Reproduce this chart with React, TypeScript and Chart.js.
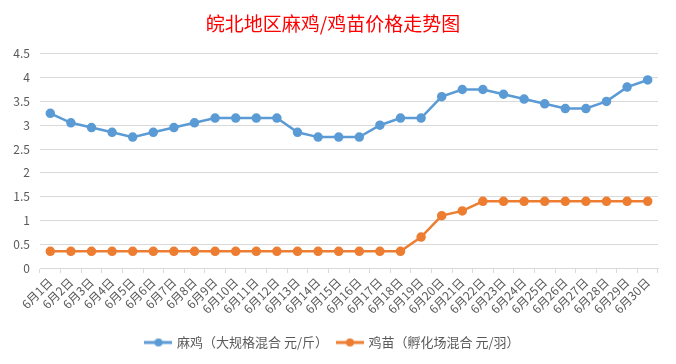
import React, { useEffect, useRef } from "react";
import { Chart, registerables } from "chart.js";

Chart.register(...registerables);

const titleText = "皖北地区麻鸡/鸡苗价格走势图";
const days = Array.from({ length: 30 }, (_, i) => `6月${i + 1}日`);
const seriesNames = ["麻鸡（大规格混合 元/斤）", "鸡苗（孵化场混合 元/羽）"];
const majiPrices = [
  3.25, 3.05, 2.95, 2.85, 2.75, 2.85, 2.95, 3.05, 3.15, 3.15,
  3.15, 3.15, 2.85, 2.75, 2.75, 2.75, 3.0, 3.15, 3.15, 3.6,
  3.75, 3.75, 3.65, 3.55, 3.45, 3.35, 3.35, 3.5, 3.8, 3.95,
];
const jimiaoPrices = [
  0.35, 0.35, 0.35, 0.35, 0.35, 0.35, 0.35, 0.35, 0.35, 0.35,
  0.35, 0.35, 0.35, 0.35, 0.35, 0.35, 0.35, 0.35, 0.65, 1.1,
  1.2, 1.4, 1.4, 1.4, 1.4, 1.4, 1.4, 1.4, 1.4, 1.4,
];
const colors = ["#5B9BD5", "#ED7D31"];

const sheetCols = [40, 112, 183, 255, 327, 399, 471, 543, 615];
const sheetRows = [29, 63, 103, 143, 176, 207, 238, 270, 311, 343];

function legendIcon(color: string) {
  const c = document.createElement("canvas");
  c.width = 28;
  c.height = 10;
  const g = c.getContext("2d")!;
  g.strokeStyle = color;
  g.lineWidth = 3;
  g.beginPath();
  g.moveTo(0, 5);
  g.lineTo(28, 5);
  g.stroke();
  g.fillStyle = color;
  g.beginPath();
  g.arc(14, 5, 4, 0, Math.PI * 2);
  g.fill();
  return c;
}

const FONT = "'Noto Sans CJK SC', 'Noto Sans', sans-serif";

export default function App() {
  const ref = useRef<HTMLCanvasElement>(null);
  useEffect(() => {
    const bgPlugin = {
      id: "sheetbg",
      beforeDraw(chart: any) {
        const ctx = chart.ctx;
        const W = chart.width, H = chart.height;
        ctx.save();
        ctx.fillStyle = "#ffffff";
        ctx.fillRect(0, 0, W, H);
        ctx.strokeStyle = "#e3e3e3";
        ctx.lineWidth = 1;
        for (const x of sheetCols) {
          ctx.beginPath();
          ctx.moveTo(x + 0.5, 0);
          ctx.lineTo(x + 0.5, H);
          ctx.stroke();
        }
        for (const y of sheetRows) {
          ctx.beginPath();
          ctx.moveTo(0, y + 0.5);
          ctx.lineTo(W, y + 0.5);
          ctx.stroke();
        }
        ctx.fillStyle = "#ffffff";
        ctx.fillRect(3, 2, 670, 359);
        ctx.strokeStyle = "#d0d0d0";
        ctx.strokeRect(3.5, 2.5, 669, 358);
        ctx.restore();
      },
    };
    const icons = colors.map(legendIcon);
    const chart = new Chart(ref.current!, {
      type: "line",
      data: {
        labels: days,
        datasets: [
          {
            label: seriesNames[0],
            data: majiPrices,
            borderColor: colors[0],
            backgroundColor: colors[0],
            borderWidth: 2.5,
            pointRadius: 3.5,
            pointBackgroundColor: colors[0],
            pointBorderColor: colors[0],
            tension: 0,
          },
          {
            label: seriesNames[1],
            data: jimiaoPrices,
            borderColor: colors[1],
            backgroundColor: colors[1],
            borderWidth: 2.5,
            pointRadius: 3.5,
            pointBackgroundColor: colors[1],
            pointBorderColor: colors[1],
            tension: 0,
          },
        ],
      },
      options: {
        responsive: false,
        animation: false,
        layout: { padding: { left: 8, right: 18, top: 4, bottom: 5 } },
        plugins: {
          title: {
            display: true,
            text: titleText,
            color: "#FF0000",
            font: { family: FONT, size: 19, weight: "normal" },
            padding: { top: 8, bottom: 19 },
          },
          legend: {
            position: "bottom",
            labels: {
              usePointStyle: true,
              pointStyleWidth: 24,
              color: "#595959",
              font: { family: FONT, size: 13 },
              padding: 10,
              generateLabels: (chart: any) =>
                chart.data.datasets.map((ds: any, i: number) => ({
                  text: ds.label,
                  fillStyle: colors[i],
                  strokeStyle: colors[i],
                  lineWidth: 0,
                  pointStyle: icons[i],
                  datasetIndex: i,
                  hidden: false,
                  fontColor: "#595959",
                })),
            },
          },
          tooltip: { enabled: false },
        },
        scales: {
          x: {
            offset: true,
            grid: {
              offset: true,
              drawOnChartArea: false,
              drawTicks: true,
              tickLength: 5,
              color: "#d9d9d9",
            },
            border: { display: true, color: "#d9d9d9" },
            ticks: {
              autoSkip: false,
              maxRotation: 45,
              minRotation: 45,
              color: "#595959",
              font: { family: FONT, size: 12 },
              padding: 2,
            },
            afterFit: (s: any) => {
              s.height = 58;
            },
          },
          y: {
            min: 0,
            max: 4.5,
            ticks: {
              stepSize: 0.5,
              color: "#595959",
              font: { family: FONT, size: 12 },
              padding: 10,
              callback: (v: any) => String(v),
            },
            grid: { color: "#d9d9d9", drawTicks: false },
            border: { display: false },
            afterFit: (s: any) => {
              s.width = 32;
            },
          },
        },
      },
      plugins: [bgPlugin],
    });
    return () => chart.destroy();
  }, []);
  return (
    <div style={{ width: 676, height: 364, margin: -8 }}>
      <canvas ref={ref} width={676} height={364} style={{ display: "block" }} />
    </div>
  );
}
